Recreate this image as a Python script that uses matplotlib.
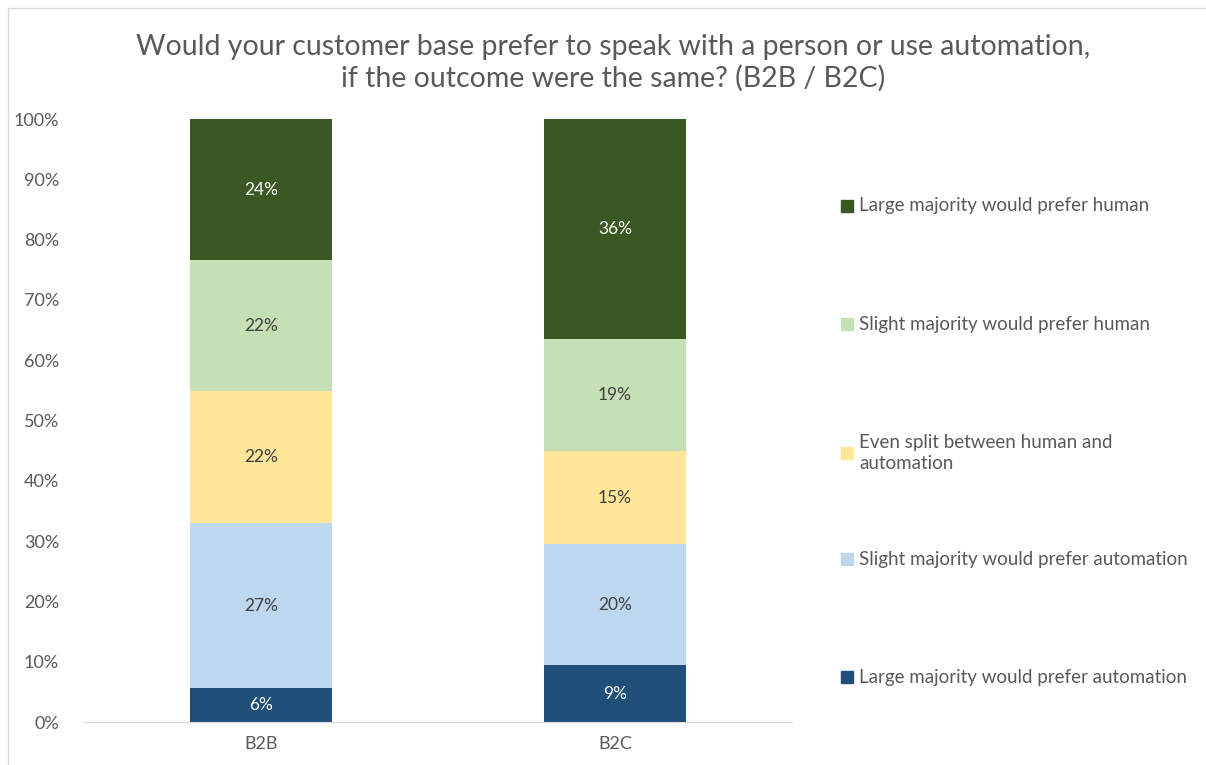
import matplotlib
matplotlib.use("Agg")
import matplotlib.pyplot as plt
from matplotlib.patches import Rectangle
from matplotlib.ticker import PercentFormatter

plt.rcParams['font.family'] = ['Lato', 'DejaVu Sans']

categories = ['B2B', 'B2C']
series = ['Large majority would prefer automation',
          'Slight majority would prefer automation',
          'Even split between human and\nautomation',
          'Slight majority would prefer human',
          'Large majority would prefer human']
# segment shares (as drawn) and the labels shown on them
shares = [[0.056, 0.094],
          [0.274, 0.201],
          [0.219, 0.154],
          [0.217, 0.186],
          [0.234, 0.365]]
labels = [['6%', '9%'],
          ['27%', '20%'],
          ['22%', '15%'],
          ['22%', '19%'],
          ['24%', '36%']]
colors = ['#1F4E79', '#BDD7EE', '#FFE699', '#C5E0B4', '#3A5724']
label_colors = ['white', '#404040', '#404040', '#404040', 'white']

fig = plt.figure(figsize=(12.06, 7.65), dpi=100)
ax = fig.add_axes([0.0697, 0.0562, 0.587, 0.7882])

x = range(len(categories))
bottom = [0.0] * len(categories)
for i, name in enumerate(series):
    bars = ax.bar(x, shares[i], 0.4, bottom=bottom, color=colors[i], label=name)
    for j, b in enumerate(bars):
        ax.text(b.get_x() + b.get_width() / 2, bottom[j] + shares[i][j] / 2,
                labels[i][j], ha='center', va='center', fontsize=12.5,
                color=label_colors[i])
    bottom = [bottom[j] + shares[i][j] for j in range(len(categories))]

ax.set_xlim(-0.5, 1.5)
ax.set_ylim(0, 1)
ax.set_yticks([k / 10 for k in range(11)])
ax.yaxis.set_major_formatter(PercentFormatter(1.0, decimals=0))
ax.set_xticks(list(x))
ax.set_xticklabels(categories)
ax.tick_params(length=0, labelsize=13, labelcolor='#595959')
ax.tick_params(axis='y', pad=18)
ax.tick_params(axis='x', pad=10)
for s in ['top', 'right', 'left']:
    ax.spines[s].set_visible(False)
ax.spines['bottom'].set_color('#D9D9D9')

fig.text(0.508, 0.918, 'Would your customer base prefer to speak with a person or use automation,\n'
         'if the outcome were the same? (B2B / B2C)',
         ha='center', va='center', fontsize=20.5, color='#595959', linespacing=1.2)

# legend, top entry first
leg_y = [677, 559, 453, 324, 206]
for i, name in enumerate(series):
    yy = 1 - leg_y[i] / 765
    fig.add_artist(Rectangle((841 / 1206, yy - 6 / 765), 12 / 1206, 12 / 765,
                             transform=fig.transFigure, color=colors[i]))
    fig.text(859 / 1206, yy, name, ha='left', va='center', fontsize=13.5,
             color='#595959', linespacing=1.3)

# chart area border
fig.add_artist(Rectangle((8 / 1206, -0.05), 1.1, 1 - 8 / 765 + 0.05,
                         transform=fig.transFigure, fill=False,
                         edgecolor='#D9D9D9', lw=1))

fig.savefig('out.png', dpi=100)
